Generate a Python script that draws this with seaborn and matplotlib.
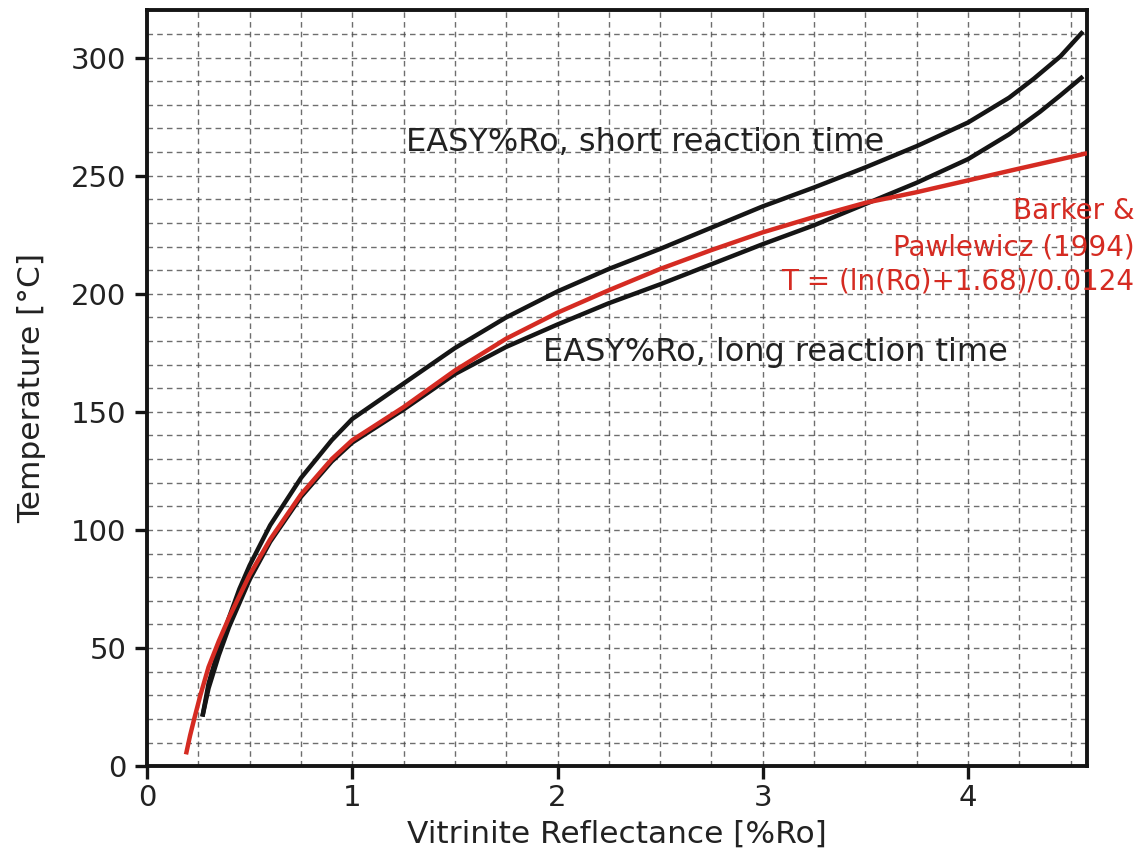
import matplotlib
matplotlib.use("Agg")
import matplotlib.pyplot as plt
import seaborn as sns
import pandas as pd
from matplotlib.ticker import MultipleLocator

# ---- data ----
ro_short = [0.27, 0.30, 0.35, 0.40, 0.45, 0.50, 0.60, 0.75, 0.90, 1.00, 1.25, 1.50, 1.75,
            2.00, 2.25, 2.50, 2.75, 3.00, 3.25, 3.50, 3.75, 4.00, 4.20, 4.32, 4.45, 4.56]
t_short = [21, 35, 50, 63, 75, 85, 102, 122, 138, 147, 162, 177, 190,
           201, 210.5, 219, 228, 237, 245, 253.5, 262.5, 272.5, 283, 291, 300.5, 311]

ro_long = [0.27, 0.30, 0.35, 0.40, 0.45, 0.50, 0.60, 0.75, 0.90, 1.00, 1.25, 1.50, 1.75,
           2.00, 2.25, 2.50, 2.75, 3.00, 3.25, 3.50, 3.75, 4.00, 4.20, 4.35, 4.45, 4.56]
t_long = [21, 33, 47, 59, 69, 79, 95, 114, 129, 137, 151, 166, 177.5,
          187, 196, 204, 212.5, 221, 229, 238, 247, 257, 267.5, 277, 284, 292]

ro_barker = [0.19, 0.21, 0.23, 0.26, 0.30, 0.35, 0.40, 0.45, 0.50, 0.60, 0.75, 0.90, 1.00,
             1.25, 1.50, 1.75, 2.00, 2.25, 2.50, 2.75, 3.00, 3.25, 3.50, 3.75, 4.00, 4.25, 4.58]
t_barker = [5, 13, 20, 30, 42, 53, 63, 72, 81, 96, 115, 130, 138,
            152, 167.5, 181, 192, 201.5, 210.5, 218.5, 226, 232.5, 238.5, 243, 248, 253, 259.5]

x_major = [0, 1, 2, 3, 4]
y_major = [0, 50, 100, 150, 200, 250, 300]

label_short = "EASY%Ro, short reaction time"
label_long = "EASY%Ro, long reaction time"
barker_lines = ["Barker &", "Pawlewicz (1994)", "T = (ln(Ro)+1.68)/0.0124"]

df = pd.concat([
    pd.DataFrame({"Ro": ro_short, "T": t_short, "curve": "short"}),
    pd.DataFrame({"Ro": ro_long, "T": t_long, "curve": "long"}),
    pd.DataFrame({"Ro": ro_barker, "T": t_barker, "curve": "barker"}),
])

# ---- style ----
sns.set_theme(style="white")
plt.rcParams["font.family"] = ["DejaVu Sans"]
plt.rcParams["lines.solid_joinstyle"] = "round"
plt.rcParams["lines.solid_capstyle"] = "butt"

BLACK = "#151515"
RED = "#d52b22"
TEXT = "#222222"

fig = plt.figure(figsize=(11.43, 8.58), dpi=100)
ax = fig.add_axes([0.1286, 0.107, 0.8225, 0.881])

sns.lineplot(data=df[df.curve == "long"], x="Ro", y="T", color=BLACK, lw=3.2,
             sort=False, ax=ax, legend=False, zorder=3)
sns.lineplot(data=df[df.curve == "short"], x="Ro", y="T", color=BLACK, lw=3.2,
             sort=False, ax=ax, legend=False, zorder=3)
sns.lineplot(data=df[df.curve == "barker"], x="Ro", y="T", color=RED, lw=3.2,
             sort=False, ax=ax, legend=False, zorder=4)

ax.set_xlim(0, 4.58)
ax.set_ylim(0, 320)

ax.xaxis.set_major_locator(MultipleLocator(1))
ax.xaxis.set_minor_locator(MultipleLocator(0.25))
ax.yaxis.set_major_locator(MultipleLocator(50))
ax.yaxis.set_minor_locator(MultipleLocator(10))
ax.set_xticks(x_major)
ax.set_yticks(y_major)

ax.grid(True, which="both", axis="both", color="#4a4a4a", lw=1.0,
        linestyle=(0, (4, 3)), alpha=0.8, zorder=0)
ax.set_axisbelow(True)

for s in ax.spines.values():
    s.set_color(BLACK)
    s.set_linewidth(2.8)

ax.tick_params(axis="both", which="both", direction="out", length=9, width=2.4,
               color=BLACK, labelsize=21, labelcolor=TEXT, pad=6)
ax.tick_params(top=False, right=False, bottom=True, left=True)
ax.tick_params(axis="x", which="both", pad=4)

ax.set_xlabel("Vitrinite Reflectance [%Ro]", fontsize=22.5, color=TEXT, labelpad=5)
ax.set_ylabel("Temperature [°C]", fontsize=22.5, color=TEXT, labelpad=18)

ax.text(1.26, 264, label_short, fontsize=23, color=TEXT, ha="left", va="center", zorder=5)
ax.text(1.93, 175, label_long, fontsize=23, color=TEXT, ha="left", va="center", zorder=5)

for t_pos, line in zip([235, 219.5, 205], barker_lines):
    ax.text(4.81, t_pos, line, fontsize=20, color=RED, ha="right", va="center",
            clip_on=False, zorder=5)

fig.savefig("out.png", dpi=100, facecolor="white")
